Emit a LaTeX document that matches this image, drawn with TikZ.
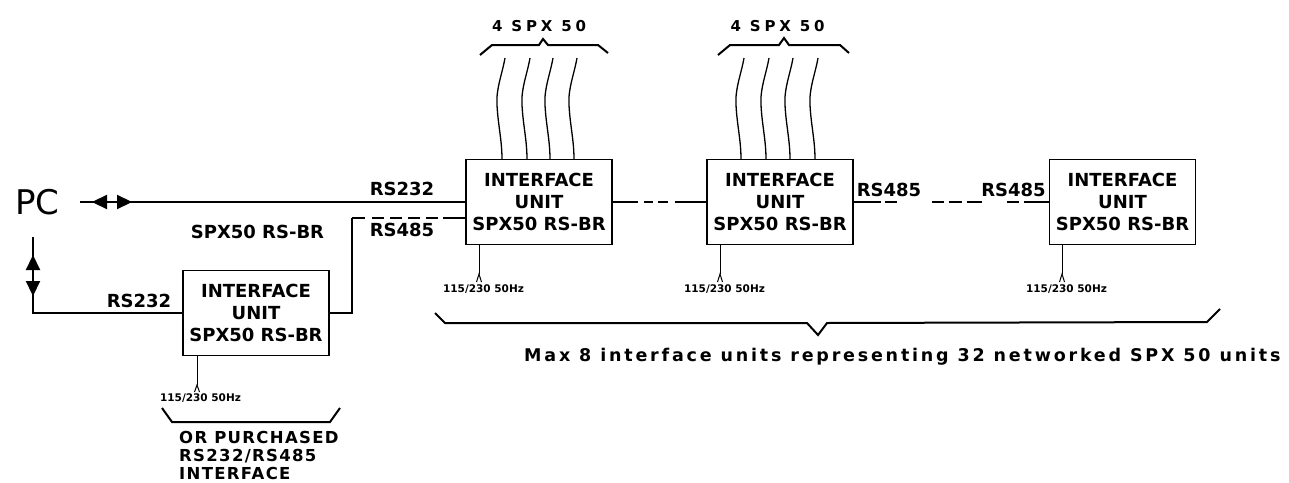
\documentclass[tikz,border=0pt]{standalone}
\usepackage{fontspec}
\setmainfont{DejaVu Sans}
\usetikzlibrary{arrows.meta}

\tikzset{
  unitbox/.style={draw, line width=1.2pt, minimum width=146pt, minimum height=85pt,
    inner sep=0pt, align=center, font=\bfseries\fontsize{18}{22}\selectfont},
  lbl/.style={inner sep=0pt, font=\bfseries\fontsize{18}{22}\selectfont},
  mainslbl/.style={inner sep=0pt, font=\bfseries\fontsize{10.5}{12}\selectfont},
  link/.style={line width=2.2pt},
  cable/.style={line width=1.3pt},
  brace/.style={line width=2pt},
  mains/.style={line width=1pt},
  dblarrow/.style={line width=2.2pt, {Triangle[length=15pt,width=14pt]}-{Triangle[length=15pt,width=14pt]}}
}

\begin{document}
\begin{tikzpicture}[x=1pt, y=-1pt]
    \useasboundingbox (0,0) rectangle (1289,482);

    % PC and the interface units
    \node[inner sep=0pt, font=\fontsize{34}{40}\selectfont] (pc) at (37.5,202.5) {PC};
    \node[unitbox] (ub) at (256,313) {INTERFACE\\UNIT\\SPX50 RS-BR};
    \node[unitbox] (u1) at (539,202) {INTERFACE\\UNIT\\SPX50 RS-BR};
    \node[unitbox] (u2) at (780,202) {INTERFACE\\UNIT\\SPX50 RS-BR};
    \node[unitbox] (u3) at (1122.5,202) {INTERFACE\\UNIT\\SPX50 RS-BR};

    % links
    \coordinate (pcr) at (80,202);
    \coordinate (pcd) at (33,237);
    \coordinate (cnr) at (352,218);
    \draw[link] (pcr) -- (u1.west);
    \draw[dblarrow] (92,202) -- (132,202);
    \draw[link] (pcd) |- (ub.west);
    \draw[dblarrow] (33,255) -- (33,296);
    \draw[link] (ub.east) -| (cnr);
    \draw[link, dash pattern=on 13pt off 7pt on 12pt off 6pt on 12pt off 6pt on 12pt off 6pt on 12pt off 5pt on 30pt]
        (cnr) -- (cnr -| u1.west);
    \draw[link, dash pattern=on 25pt off 6pt on 9pt off 5pt on 10pt off 7pt on 40pt] (u1.east) -- (u2.west);
    \draw[link, dash pattern=on 27pt off 4pt on 12pt off 35pt on 12pt off 5pt on 13pt off 5pt on 15pt off 25pt on 12pt off 5pt on 40pt]
        (u2.east) -- (u3.west);

    % line labels
    \node[lbl] (l232a) at (402,189) {RS232};
    \node[lbl] (l485a) at (402,229.5) {RS485};
    \node[lbl] (lspx) at (257.5,232) {SPX50 RS-BR};
    \node[lbl] (l232b) at (139,301) {RS232};
    \node[lbl] (l485b) at (889,190) {RS485};
    \node[lbl] (l485c) at (1013.5,190) {RS485};

    % SPX 50 cables
    \draw[cable] (505,58) .. controls (502,75) and (496,88) .. (497,105) .. controls (498,125) and (502,140) .. (502,159.5);
    \draw[cable] (530,58) .. controls (527,75) and (521,88) .. (522,105) .. controls (523,125) and (527,140) .. (527,159.5);
    \draw[cable] (553,58) .. controls (550,75) and (544,88) .. (545,105) .. controls (546,125) and (550,140) .. (550,159.5);
    \draw[cable] (577,58) .. controls (574,75) and (568,88) .. (569,105) .. controls (570,125) and (574,140) .. (574,159.5);
    \draw[cable] (744,58) .. controls (741,75) and (735,88) .. (736,105) .. controls (737,125) and (741,140) .. (741,159.5);
    \draw[cable] (769,58) .. controls (766,75) and (760,88) .. (761,105) .. controls (762,125) and (766,140) .. (766,159.5);
    \draw[cable] (793,58) .. controls (790,75) and (784,88) .. (785,105) .. controls (786,125) and (790,140) .. (790,159.5);
    \draw[cable] (818,58) .. controls (815,75) and (809,88) .. (810,105) .. controls (811,125) and (815,140) .. (815,159.5);
    \draw[brace] (480,55) -- (492,45) -- (539,45) -- (543,39) -- (548,45) -- (598,45) -- (608,53);
    \draw[brace] (718,55) -- (730,45) -- (779,45) -- (784,38) -- (789,45) -- (840,45) -- (849,53);
    \node[lbl, font=\bfseries\fontsize{15}{17}\selectfont\addfontfeatures{LetterSpace=25}] (spx1) at (539,26) {4 SPX 50};
    \node[lbl, font=\bfseries\fontsize{15}{17}\selectfont\addfontfeatures{LetterSpace=25}] (spx2) at (777.5,26) {4 SPX 50};

    % mains supply
    \coordinate (tb) at (197,385);
    \coordinate (t1) at (479,274);
    \coordinate (t2) at (720,274);
    \coordinate (t3) at (1062,274);
    \draw[mains] (tb |- ub.south) -- (tb);
    \draw[mains] ([xshift=-2.5pt,yshift=-7pt]tb) -- (tb) -- ([xshift=2.5pt,yshift=-7pt]tb);
    \draw[mains] (t1 |- u1.south) -- (t1);
    \draw[mains] ([xshift=-2.5pt,yshift=-8pt]t1) -- (t1) -- ([xshift=2.5pt,yshift=-8pt]t1);
    \draw[mains] (t2 |- u2.south) -- (t2);
    \draw[mains] ([xshift=-2.5pt,yshift=-8pt]t2) -- (t2) -- ([xshift=2.5pt,yshift=-8pt]t2);
    \draw[mains] (t3 |- u3.south) -- (t3);
    \draw[mains] ([xshift=-2.5pt,yshift=-8pt]t3) -- (t3) -- ([xshift=2.5pt,yshift=-8pt]t3);
    \node[mainslbl] (vb) at (200.5,398.5) {115/230 50Hz};
    \node[mainslbl] (v1) at (483.5,289) {115/230 50Hz};
    \node[mainslbl] (v2) at (724.5,289) {115/230 50Hz};
    \node[mainslbl] (v3) at (1066.5,289) {115/230 50Hz};

    % groupings
    \draw[brace] (162,408) -- (172,422) -- (330,422) -- (340,408);
    \node[lbl, anchor=north west, align=left, font=\bfseries\fontsize{16.5}{18}\selectfont\addfontfeatures{LetterSpace=8}]
        (alt) at (179,431.5) {OR PURCHASED\\RS232/RS485\\INTERFACE};
    \draw[brace] (435,313) -- (445,323) -- (807,323) -- (818,335) -- (827,323) -- (1207,322) -- (1220,309);
    \node[lbl, anchor=base west, font=\bfseries\fontsize{17.5}{19}\selectfont\addfontfeatures{LetterSpace=16}]
        (maxn) at (524,361) {Max 8 interface units representing 32 networked SPX 50 units};
\end{tikzpicture}
\end{document}
